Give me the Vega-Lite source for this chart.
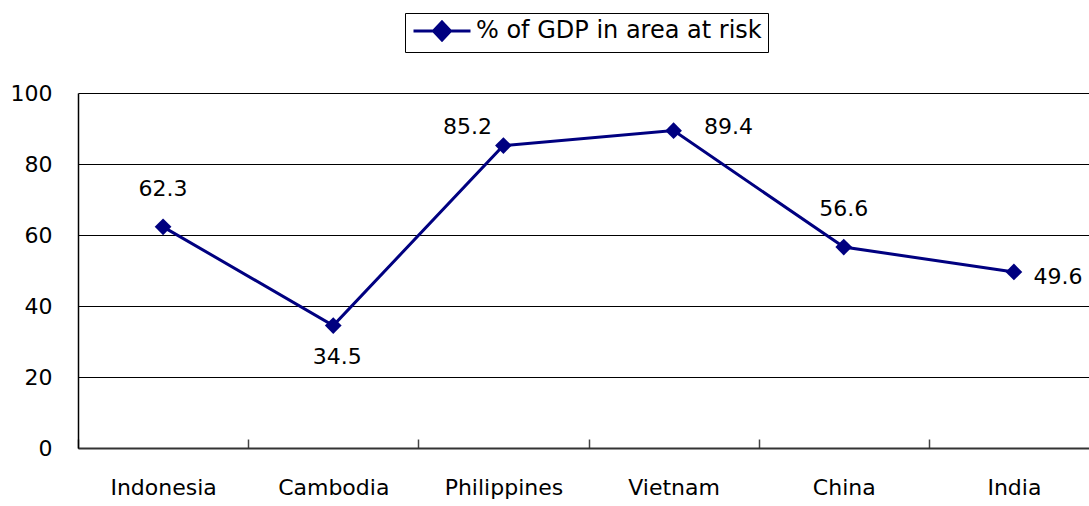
{
  "$schema": "https://vega.github.io/schema/vega-lite/v6.json",
  "width": 1021,
  "height": 355,
  "autosize": {"type": "none"},
  "padding": {"left": 78, "top": 93, "right": 0, "bottom": 58},
  "background": "white",
  "config": {
    "view": {"stroke": null},
    "font": "DejaVu Sans",
    "axis": {"labelFont": "DejaVu Sans", "labelColor": "black", "labelFontSize": 22, "title": null}
  },
  "data": {
    "values": [
      {"country": "Indonesia", "value": 62.3},
      {"country": "Cambodia", "value": 34.5},
      {"country": "Philippines", "value": 85.2},
      {"country": "Vietnam", "value": 89.4},
      {"country": "China", "value": 56.6},
      {"country": "India", "value": 49.6}
    ]
  },
  "encoding": {
    "x": {
      "field": "country", "type": "nominal", "sort": null,
      "scale": {"paddingInner": 0, "paddingOuter": 0},
      "axis": {"labelAngle": 0, "tickBand": "extent", "tickSize": -9, "tickColor": "#444", "tickWidth": 1.5, "labelPadding": 38, "domainColor": "#333", "domainWidth": 2, "grid": false}
    },
    "y": {
      "field": "value", "type": "quantitative",
      "scale": {"domain": [0, 100], "nice": false, "zero": true},
      "axis": {"values": [0, 20, 40, 60, 80, 100], "ticks": false, "labelPadding": 26, "domainColor": "black", "domainWidth": 1.5, "grid": true, "gridColor": "black", "gridWidth": 1, "gridOpacity": 1}
    }
  },
  "layer": [
    {
      "mark": {"type": "line", "strokeWidth": 3},
      "encoding": {
        "color": {
          "datum": "% of GDP in area at risk",
          "type": "nominal",
          "scale": {"range": ["#000080"]},
          "legend": {
            "orient": "none", "legendX": 327, "legendY": -80,
            "title": null,
            "symbolType": "M-2.85,0L2.85,0M0,-0.9L0.85,0L0,0.9L-0.85,0Z",
            "symbolSize": 400,
            "symbolStrokeWidth": 3,
            "symbolFillColor": "#000080",
            "symbolStrokeColor": "#000080",
            "symbolOpacity": 1,
            "symbolOffset": 19,
            "labelOffset": 22,
            "labelFont": "DejaVu Sans",
            "labelFontSize": 24,
            "labelColor": "black",
            "labelLimit": 500,
            "strokeColor": "black",
            "padding": 6,
            "encode": {"symbols": {"update": {"fill": {"value": "#000080"}, "stroke": {"value": "#000080"}, "strokeWidth": {"value": 3}, "opacity": {"value": 1}}}}
          }
        }
      }
    },
    {
      "mark": {"type": "point", "shape": "diamond", "filled": true, "size": 280, "opacity": 1, "color": "#000080"}
    },
    {
      "transform": [{"filter": "datum.country == 'Indonesia' || datum.country == 'China'"}],
      "mark": {"type": "text", "fontSize": 22, "font": "DejaVu Sans", "baseline": "alphabetic", "dy": -31, "color": "black"},
      "encoding": {"text": {"field": "value", "type": "quantitative", "format": ".1f"}}
    },
    {
      "transform": [{"filter": "datum.country == 'Cambodia'"}],
      "mark": {"type": "text", "fontSize": 22, "font": "DejaVu Sans", "baseline": "alphabetic", "dx": 4, "dy": 38, "color": "black"},
      "encoding": {"text": {"field": "value", "type": "quantitative", "format": ".1f"}}
    },
    {
      "transform": [{"filter": "datum.country == 'Philippines'"}],
      "mark": {"type": "text", "fontSize": 22, "font": "DejaVu Sans", "baseline": "alphabetic", "dx": -36, "dy": -12, "color": "black"},
      "encoding": {"text": {"field": "value", "type": "quantitative", "format": ".1f"}}
    },
    {
      "transform": [{"filter": "datum.country == 'Vietnam'"}],
      "mark": {"type": "text", "fontSize": 22, "font": "DejaVu Sans", "baseline": "alphabetic", "dx": 55, "dy": 3, "color": "black"},
      "encoding": {"text": {"field": "value", "type": "quantitative", "format": ".1f"}}
    },
    {
      "transform": [{"filter": "datum.country == 'India'"}],
      "mark": {"type": "text", "fontSize": 22, "font": "DejaVu Sans", "baseline": "alphabetic", "dx": 44, "dy": 12, "color": "black"},
      "encoding": {"text": {"field": "value", "type": "quantitative", "format": ".1f"}}
    }
  ]
}
